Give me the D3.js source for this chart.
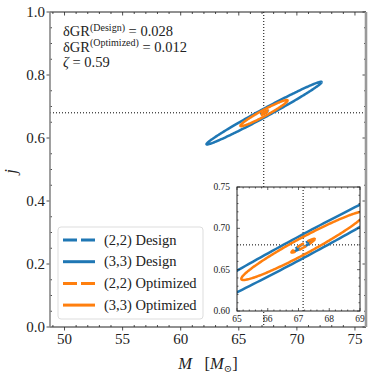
<!DOCTYPE html>
<html>
<head>
<meta charset="utf-8">
<script src="https://cdn.jsdelivr.net/npm/d3@7"></script>
<style>
  body { margin: 0; background: #fff; }
  svg text { font-family: "Liberation Serif", "DejaVu Serif", serif; fill: #222; }
</style>
</head>
<body>
<svg id="mainSVG" width="374" height="374"></svg>
<script>
// Elipses (parametros)
var ellipseNames = ["(2,2) Design", "(3,3) Design", "(2,2) Optimized", "(3,3) Optimized"];
var ellipseColors = ["#1f77b4", "#1f77b4", "#ff7f0e", "#ff7f0e"];
var ellipseDashed = [true, false, true, false];
var centerM = [67.15, 67.18, 67.15, 67.17];
var centerJ = [0.679, 0.679, 0.679, 0.679];
var halfSpanM = [0.33, 4.96, 0.38, 2.03];
var tipOffsetJ = [0.0065, 0.0985, 0.008, 0.040];
var halfWidthJ = [0.002, 0.0145, 0.0025, 0.011];

// Referencia (linhas pontilhadas)
var trueM = 67.15;
var trueJ = 0.68;

// Textos
var annotLines = [
  {base: "δGR", sup: "(Design)", rest: " = 0.028"},
  {base: "δGR", sup: "(Optimized)", rest: " = 0.012"},
  {base: "ζ", sup: "", rest: " = 0.59"}
];
var xTicksMain = [50, 55, 60, 65, 70, 75];
var yTicksMain = [0.0, 0.2, 0.4, 0.6, 0.8, 1.0];
var xTicksInset = [65, 66, 67, 68, 69];
var yTicksInset = [0.60, 0.65, 0.70, 0.75];

var mainSVG = d3.select("#mainSVG");

// Escalas
var mLeft = 50, mRight = 366, mTop = 12, mBottom = 327;
var xScale = d3.scaleLinear().domain([48.75, 75.95]).range([mLeft, mRight]);
var yScale = d3.scaleLinear().domain([0, 1]).range([mBottom, mTop]);

var inL = 237, inR = 360, inT = 187, inB = 311;
var xIn = d3.scaleLinear().domain([65, 69]).range([inL, inR]);
var yIn = d3.scaleLinear().domain([0.60, 0.75]).range([inB, inT]);

function ellipsePoints(i) {
  var pts = [];
  for (var k = 0; k <= 240; ++k) {
    var t = 2 * Math.PI * k / 240;
    pts.push([centerM[i] + halfSpanM[i] * Math.cos(t),
              centerJ[i] + tipOffsetJ[i] * Math.cos(t) + halfWidthJ[i] * Math.sin(t)]);
  }
  return pts;
}

function drawEllipses(g, xs, ys) {
  var line = d3.line().x(function(d){ return xs(d[0]); }).y(function(d){ return ys(d[1]); });
  for (var i = 0; i < ellipseNames.length; ++i) {
    g.append("path")
      .attr("d", line(ellipsePoints(i)))
      .attr("fill", "none")
      .attr("stroke", ellipseColors[i])
      .attr("stroke-width", 2.5)
      .attr("stroke-dasharray", ellipseDashed[i] ? "8,4" : null);
  }
}

// Clip
var defs = mainSVG.append("defs");
defs.append("clipPath").attr("id", "clipMain").append("rect")
  .attr("x", mLeft).attr("y", mTop).attr("width", mRight - mLeft).attr("height", mBottom - mTop);
defs.append("clipPath").attr("id", "clipInset").append("rect")
  .attr("x", inL).attr("y", inT).attr("width", inR - inL).attr("height", inB - inT);

var plot = mainSVG.append("g").attr("clip-path", "url(#clipMain)");

// Linhas pontilhadas
plot.append("line")
  .attr("x1", xScale(trueM)).attr("x2", xScale(trueM))
  .attr("y1", mTop).attr("y2", mBottom)
  .attr("stroke", "#000").attr("stroke-width", 1).attr("stroke-dasharray", "1,2");
plot.append("line")
  .attr("x1", mLeft).attr("x2", mRight)
  .attr("y1", yScale(trueJ)).attr("y2", yScale(trueJ))
  .attr("stroke", "#000").attr("stroke-width", 1).attr("stroke-dasharray", "1,2");

drawEllipses(plot, xScale, yScale);

// Ticks principais
var tickG = mainSVG.append("g").attr("stroke", "#222").attr("stroke-width", 0.8);
d3.range(49, 76, 1).forEach(function(v) {
  var major = xTicksMain.indexOf(v) >= 0;
  var x = xScale(v);
  tickG.append("line").attr("x1", x).attr("x2", x).attr("y1", mTop).attr("y2", mTop + (major ? 3.5 : 2));
  if (major) {
    tickG.append("line").attr("x1", x).attr("x2", x).attr("y1", mBottom).attr("y2", mBottom + 3.5);
  } else {
    tickG.append("line").attr("x1", x).attr("x2", x).attr("y1", mBottom).attr("y2", mBottom - 2);
  }
});
d3.range(0, 21).map(function(k){ return k * 0.05; }).forEach(function(v) {
  var major = Math.abs(v * 5 - Math.round(v * 5)) < 1e-6;
  var y = yScale(v);
  tickG.append("line").attr("x1", mRight).attr("x2", mRight - (major ? 3.5 : 2)).attr("y1", y).attr("y2", y);
  if (major) {
    tickG.append("line").attr("x1", mLeft).attr("x2", mLeft - 3.5).attr("y1", y).attr("y2", y);
  } else {
    tickG.append("line").attr("x1", mLeft).attr("x2", mLeft + 2).attr("y1", y).attr("y2", y);
  }
});

// Spines
mainSVG.append("line").attr("x1", mLeft).attr("x2", mRight).attr("y1", mTop).attr("y2", mTop)
  .attr("stroke", "#222").attr("stroke-width", 1);
mainSVG.append("line").attr("x1", mLeft).attr("x2", mRight).attr("y1", mBottom).attr("y2", mBottom)
  .attr("stroke", "#222").attr("stroke-width", 1);
mainSVG.append("line").attr("x1", mLeft).attr("x2", mLeft).attr("y1", mTop).attr("y2", mBottom)
  .attr("stroke", "#888").attr("stroke-width", 1.6);
mainSVG.append("line").attr("x1", mRight).attr("x2", mRight).attr("y1", mTop).attr("y2", mBottom)
  .attr("stroke", "#999").attr("stroke-width", 2.6);

// Rotulos dos ticks
mainSVG.selectAll(".xtl").data(xTicksMain).enter().append("text")
  .attr("x", function(d){ return xScale(d); })
  .attr("y", 344)
  .attr("text-anchor", "middle")
  .style("font-size", "15px")
  .text(function(d){ return d; });
mainSVG.selectAll(".ytl").data(yTicksMain).enter().append("text")
  .attr("x", 45)
  .attr("y", function(d){ return yScale(d) + 5; })
  .attr("text-anchor", "end")
  .style("font-size", "15px")
  .text(function(d){ return d.toFixed(1); });

// Titulos dos eixos
var xl = mainSVG.append("text").attr("x", 208).attr("y", 369).attr("text-anchor", "middle")
  .style("font-size", "16.5px");
xl.append("tspan").style("font-style", "italic").text("M");
xl.append("tspan").text("\u2002\u00a0[");
xl.append("tspan").style("font-style", "italic").text("M");
xl.append("tspan").attr("dy", 3).style("font-size", "10px").text("⊙");
xl.append("tspan").attr("dy", -3).text("]");

mainSVG.append("text")
  .attr("transform", "translate(16," + (yScale(0.5) + 2) + ") rotate(-90)")
  .attr("text-anchor", "middle")
  .style("font-size", "16.5px").style("font-style", "italic")
  .text("j");

// Anotacoes
annotLines.forEach(function(a, i) {
  var t = mainSVG.append("text").attr("x", 63).attr("y", 36 + i * 15.5).style("font-size", "14.5px");
  t.append("tspan").style("font-style", a.sup ? "normal" : "italic").text(a.base);
  if (a.sup) {
    t.append("tspan").attr("dy", -5.5).style("font-size", "10px").text(a.sup);
    t.append("tspan").attr("dy", 5.5).text(a.rest);
  } else {
    t.append("tspan").text(a.rest);
  }
});

// Inset
var inset = mainSVG.append("g");
inset.append("rect").attr("x", inL).attr("y", inT).attr("width", inR - inL).attr("height", inB - inT)
  .attr("fill", "#fff");
var insetPlot = inset.append("g").attr("clip-path", "url(#clipInset)");
insetPlot.append("line")
  .attr("x1", xIn(trueM)).attr("x2", xIn(trueM)).attr("y1", inT).attr("y2", inB)
  .attr("stroke", "#000").attr("stroke-width", 1).attr("stroke-dasharray", "1,2");
insetPlot.append("line")
  .attr("x1", inL).attr("x2", inR).attr("y1", yIn(trueJ)).attr("y2", yIn(trueJ))
  .attr("stroke", "#000").attr("stroke-width", 1).attr("stroke-dasharray", "1,2");
drawEllipses(insetPlot, xIn, yIn);

var itick = inset.append("g").attr("stroke", "#222").attr("stroke-width", 0.7);
d3.range(0, 21).map(function(k){ return 65 + k * 0.2; }).forEach(function(v) {
  var major = Math.abs(v - Math.round(v)) < 1e-6;
  var len = major ? 3 : 1.5;
  var x = xIn(v);
  itick.append("line").attr("x1", x).attr("x2", x).attr("y1", inB).attr("y2", inB - len);
  itick.append("line").attr("x1", x).attr("x2", x).attr("y1", inT).attr("y2", inT + len);
});
d3.range(0, 16).map(function(k){ return 0.60 + k * 0.01; }).forEach(function(v) {
  var major = Math.abs(v * 20 - Math.round(v * 20)) < 1e-6;
  var len = major ? 3 : 1.5;
  var y = yIn(v);
  itick.append("line").attr("x1", inL).attr("x2", inL + len).attr("y1", y).attr("y2", y);
  itick.append("line").attr("x1", inR).attr("x2", inR - len).attr("y1", y).attr("y2", y);
});
inset.append("rect").attr("x", inL).attr("y", inT).attr("width", inR - inL).attr("height", inB - inT)
  .attr("fill", "none").attr("stroke", "#222").attr("stroke-width", 1);

inset.selectAll(".ixt").data(xTicksInset).enter().append("text")
  .attr("x", function(d){ return xIn(d); })
  .attr("y", 322)
  .attr("text-anchor", "middle")
  .style("font-size", "9.5px")
  .text(function(d){ return d; });
inset.selectAll(".iyt").data(yTicksInset).enter().append("text")
  .attr("x", 230)
  .attr("y", function(d){ return yIn(d) + 3; })
  .attr("text-anchor", "end")
  .style("font-size", "9.5px")
  .text(function(d){ return d.toFixed(2); });

// Legenda
var legend = mainSVG.append("g");
legend.append("rect").attr("x", 58).attr("y", 227).attr("width", 145).attr("height", 92)
  .attr("rx", 3).attr("fill", "#fff").attr("fill-opacity", 0.8)
  .attr("stroke", "#ddd").attr("stroke-width", 1);
ellipseNames.forEach(function(name, i) {
  var y = 240 + i * 21.7;
  legend.append("line").attr("x1", 63).attr("x2", 95).attr("y1", y).attr("y2", y)
    .attr("stroke", ellipseColors[i]).attr("stroke-width", 3)
    .attr("stroke-dasharray", ellipseDashed[i] ? "14,4" : null);
  legend.append("text").attr("x", 104).attr("y", y + 4.5).style("font-size", "14.5px").text(name);
});
</script>
</body>
</html>
